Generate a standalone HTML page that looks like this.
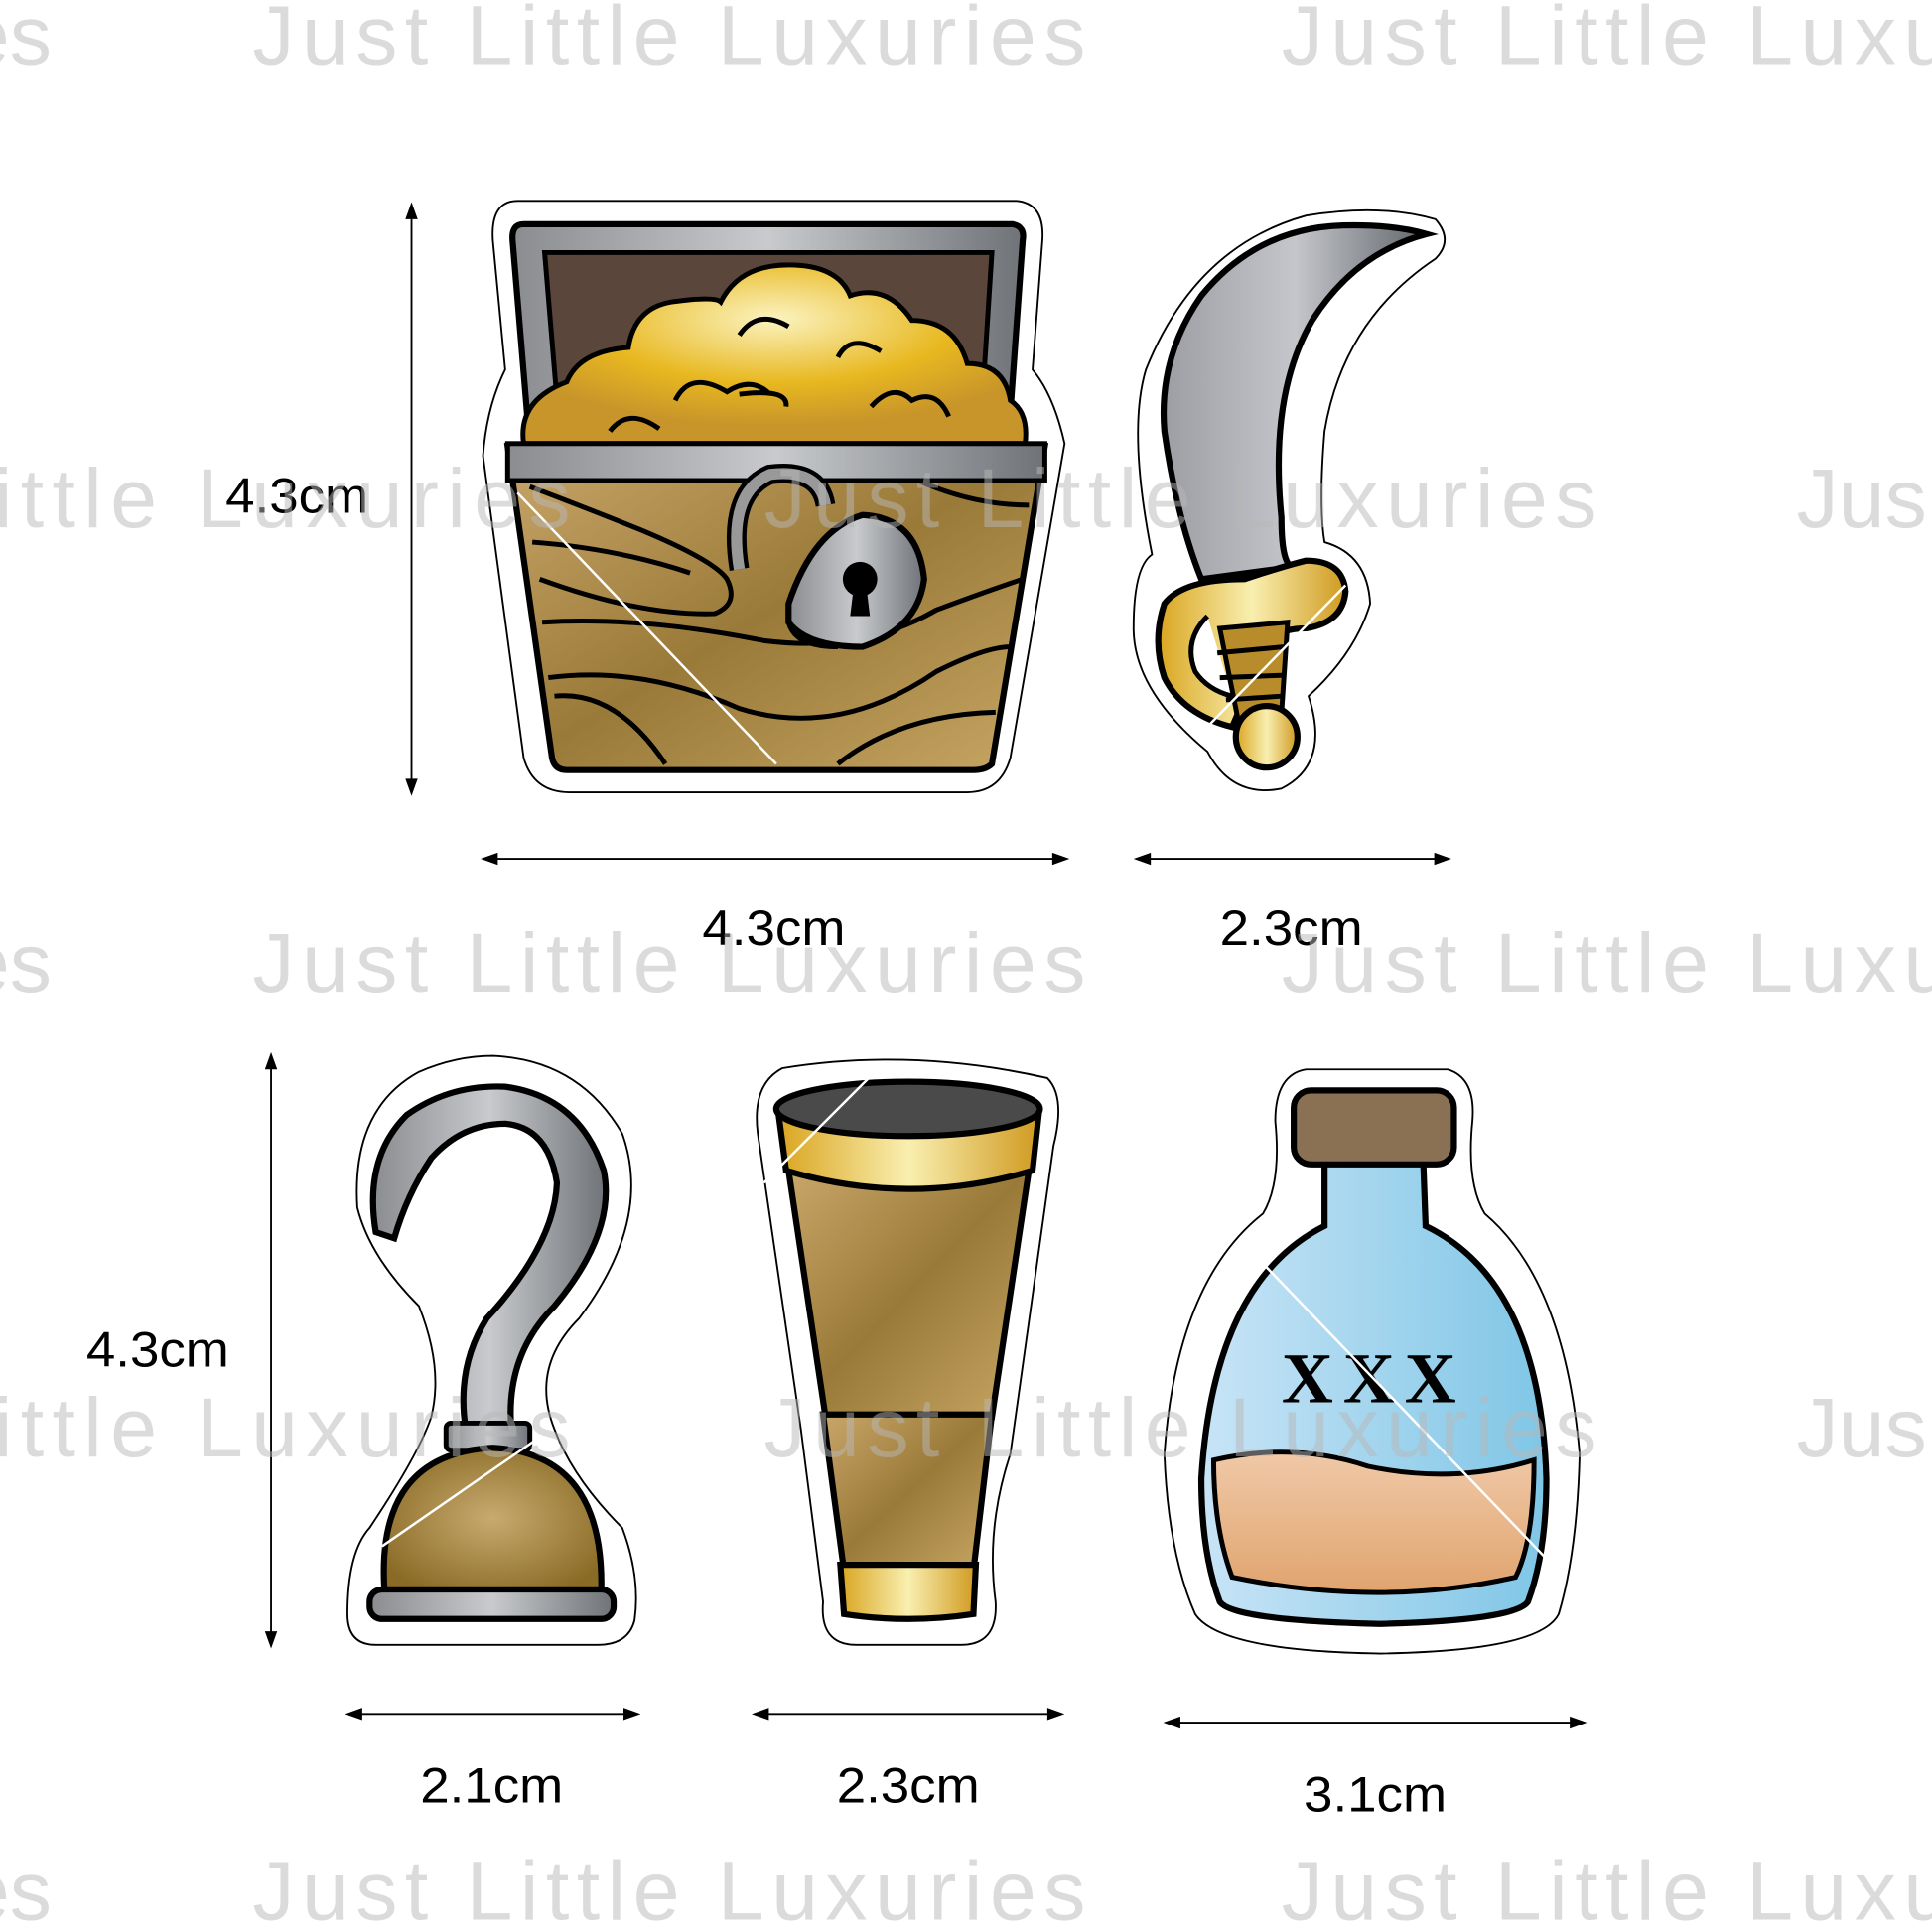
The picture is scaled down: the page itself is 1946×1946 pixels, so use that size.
<!DOCTYPE html>
<html><head><meta charset="utf-8"><style>
html,body{margin:0;padding:0;background:#fff}
svg{display:block}
</style></head><body>
<svg width="1946" height="1946" viewBox="0 0 1568 1568" xmlns="http://www.w3.org/2000/svg" font-family="Liberation Sans, sans-serif">
<defs>
<linearGradient id="gold" x1="0" x2="1"><stop offset="0" stop-color="#d9a520"/><stop offset=".5" stop-color="#f9efb0"/><stop offset="1" stop-color="#d09a20"/></linearGradient>
<radialGradient id="coins" cx=".5" cy=".3" r=".6"><stop offset="0" stop-color="#fbf3c0"/><stop offset=".6" stop-color="#e8b820"/><stop offset="1" stop-color="#c8952a"/></radialGradient>
<linearGradient id="wood" x1="0" x2="1" y1="0" y2="1"><stop offset="0" stop-color="#c9a66a"/><stop offset=".5" stop-color="#9a7a38"/><stop offset="1" stop-color="#c8a765"/></linearGradient>
<linearGradient id="steel" x1="0" x2="1"><stop offset="0" stop-color="#8a8c90"/><stop offset=".5" stop-color="#c8cacd"/><stop offset="1" stop-color="#6f7377"/></linearGradient>
<linearGradient id="blade" x1="0" x2="1"><stop offset="0" stop-color="#9c9ea4"/><stop offset=".5" stop-color="#c5c6cb"/><stop offset="1" stop-color="#60666b"/></linearGradient>
<linearGradient id="glass" x1="0" x2="1"><stop offset="0" stop-color="#c8e4f6"/><stop offset="1" stop-color="#7fc6e6"/></linearGradient>
<linearGradient id="rum" x1="0" y1="0" x2="0" y2="1"><stop offset="0" stop-color="#f0c9a8"/><stop offset="1" stop-color="#e0a46e"/></linearGradient>
<radialGradient id="brown" cx=".5" cy=".5" r=".6"><stop offset="0" stop-color="#c8aa70"/><stop offset="1" stop-color="#8a6b25"/></radialGradient>
</defs>

<!-- CHEST -->
<path d="M420 163 L825 163 Q848 165 846 195 L838 300 Q855 320 864 360 L820 615 Q812 643 785 643 L462 643 Q433 643 425 615 L392 370 Q395 330 410 300 L400 195 Q398 163 420 163Z" fill="#fff" stroke="#000" stroke-width="1.5"/>
<path d="M425 182 L822 182 Q832 184 830 195 L818 362 L430 362 L416 195 Q415 182 425 182Z" fill="url(#steel)" stroke="#000" stroke-width="5"/>
<path d="M442 205 L805 205 L795 360 L455 360Z" fill="#5a463b" stroke="#000" stroke-width="4"/>
<path d="M425 360 Q420 325 460 310 Q470 285 510 282 Q515 250 545 245 Q580 240 585 245 Q600 215 640 215 Q680 215 690 240 Q720 230 740 260 Q775 260 785 295 Q815 295 820 325 Q835 335 832 360Z" fill="url(#coins)" stroke="#000" stroke-width="4"/>
<g fill="none" stroke="#000" stroke-width="4">
<path d="M600 272 Q615 250 640 265 M680 290 Q690 270 715 285 M548 325 Q560 300 590 318 Q610 305 625 320 M638 330 Q640 315 600 320 M707 330 Q725 310 740 325 Q760 315 770 338 M495 350 Q510 330 535 348"/>
</g>
<path d="M412 362 L848 362 L805 620 Q800 625 790 625 L460 625 Q450 625 448 615Z" fill="url(#wood)" stroke="#000" stroke-width="5"/>
<rect x="412" y="360" width="436" height="30" fill="url(#steel)" stroke="#000" stroke-width="4"/>
<g fill="none" stroke="#000" stroke-width="4">
<path d="M430 395 Q470 410 520 430 Q580 455 590 470 Q600 490 580 498 Q520 500 438 470"/>
<path d="M432 440 Q500 445 560 465"/>
<path d="M440 505 Q520 500 620 520 Q700 530 760 495 Q800 480 830 470"/>
<path d="M445 550 Q520 540 600 575 Q680 600 760 545 Q800 525 820 525"/>
<path d="M450 565 Q500 560 540 620 M680 620 Q730 580 808 578"/>
<path d="M745 390 Q790 410 835 410"/>
</g>
<path d="M600 462 Q590 400 625 385 Q665 380 670 410" fill="none" stroke="#000" stroke-width="16"/>
<path d="M600 462 Q590 400 625 385 Q665 380 670 410" fill="none" stroke="#999" stroke-width="9"/>
<path d="M640 490 Q660 430 700 418 Q745 420 750 470 Q745 510 700 525 Q655 525 640 505Z" fill="url(#steel)" stroke="#000" stroke-width="5"/>
<path d="M640 505 Q645 525 680 525" fill="none" stroke="#000" stroke-width="4"/>
<circle cx="698" cy="470" r="14" fill="#000"/><path d="M693 475 L690 500 L706 500 L703 475Z" fill="#000"/>
<path d="M420 400 L630 620" stroke="#fff" stroke-width="2"/>

<!-- SWORD -->
<path d="M1165 178 Q1180 195 1165 210 Q1090 260 1075 350 Q1070 410 1075 440 Q1110 450 1112 490 Q1100 530 1062 565 Q1080 620 1040 640 Q1000 648 980 610 Q920 560 920 510 Q920 460 935 450 Q915 350 930 300 Q970 200 1060 175 Q1120 165 1165 178Z" fill="#fff" stroke="#000" stroke-width="1.5"/>
<path d="M1158 190 Q1100 205 1065 260 Q1030 320 1040 420 Q1040 460 1050 460 L975 470 Q955 420 945 350 Q940 290 975 240 Q1020 185 1090 183 Q1130 182 1158 190Z" fill="url(#blade)" stroke="#000" stroke-width="5"/>
<path d="M945 490 Q960 470 1010 470 Q1040 460 1060 455 Q1090 455 1092 480 Q1090 505 1060 510 Q1040 510 1030 520 L1000 590 Q960 580 945 550 Q935 520 945 490Z" fill="url(#gold)" stroke="#000" stroke-width="5"/>
<path d="M980 500 Q960 520 970 545 Q980 560 1000 565" fill="#fff" stroke="#000" stroke-width="4"/>
<path d="M990 510 L1045 505 L1040 580 L1005 585Z" fill="#b88c2a" stroke="#000" stroke-width="4"/>
<path d="M988 530 L1042 525 M990 550 L1042 548 M995 568 L1040 565" stroke="#000" stroke-width="4"/>
<circle cx="1028" cy="598" r="25" fill="url(#gold)" stroke="#000" stroke-width="5"/>
<path d="M1092 475 L970 600" stroke="#fff" stroke-width="2"/>

<!-- HOOK -->
<path d="M400 857 Q470 860 505 920 Q530 990 470 1070 Q430 1110 450 1160 Q465 1200 505 1240 Q520 1280 515 1315 Q510 1335 485 1335 L305 1335 Q282 1335 282 1310 Q282 1260 300 1240 Q340 1180 350 1150 Q360 1110 340 1060 Q300 1020 290 980 Q285 900 340 870 Q370 857 400 857Z" fill="#fff" stroke="#000" stroke-width="1.5"/>
<path d="M305 1000 Q295 940 330 905 Q365 880 410 882 Q470 890 490 950 Q500 1000 450 1060 Q410 1100 415 1160 L378 1160 Q370 1110 395 1070 Q450 1010 452 960 Q445 915 410 912 Q375 912 350 940 Q330 970 320 1005Z" fill="url(#steel)" stroke="#000" stroke-width="5"/>
<rect x="362" y="1155" width="68" height="22" rx="4" fill="url(#steel)" stroke="#000" stroke-width="4"/>
<path d="M312 1290 Q305 1180 400 1175 Q490 1180 488 1290Z" fill="url(#brown)" stroke="#000" stroke-width="5"/>
<rect x="300" y="1290" width="198" height="24" rx="10" fill="url(#steel)" stroke="#000" stroke-width="5"/>
<path d="M440 1165 L310 1255" stroke="#fff" stroke-width="2"/>

<!-- SPYGLASS -->
<path d="M635 867 Q740 850 850 875 Q865 890 855 930 L820 1180 Q800 1240 808 1300 Q810 1335 780 1335 L695 1335 Q665 1335 668 1300 L650 1160 L615 920 Q610 880 635 867Z" fill="#fff" stroke="#000" stroke-width="1.5"/>
<path d="M640 950 L835 950 L805 1150 L670 1150Z" fill="url(#wood)" stroke="#000" stroke-width="5"/>
<path d="M668 1148 L805 1148 L790 1275 L685 1275Z" fill="url(#wood)" stroke="#000" stroke-width="5"/>
<path d="M632 905 L843 905 L838 950 Q738 980 638 950Z" fill="url(#gold)" stroke="#000" stroke-width="5"/>
<ellipse cx="737" cy="900" rx="107" ry="22" fill="#4a4a4a" stroke="#000" stroke-width="5"/>
<path d="M682 1270 L792 1270 L790 1310 Q737 1318 685 1310Z" fill="url(#gold)" stroke="#000" stroke-width="5"/>
<path d="M710 870 L620 960" stroke="#fff" stroke-width="2"/>

<!-- BOTTLE -->
<path d="M1060 868 L1175 868 Q1198 875 1195 910 Q1190 960 1205 985 Q1270 1040 1282 1180 Q1280 1260 1265 1310 Q1250 1340 1120 1342 Q990 1340 970 1310 Q948 1260 945 1180 Q955 1040 1025 985 Q1040 960 1035 910 Q1035 872 1060 868Z" fill="#fff" stroke="#000" stroke-width="1.5"/>
<path d="M1075 940 L1155 940 L1157 995 Q1250 1040 1255 1200 Q1255 1260 1240 1300 Q1230 1315 1120 1318 Q1000 1315 990 1300 Q975 1260 975 1200 Q985 1040 1075 995Z" fill="url(#glass)" stroke="#000" stroke-width="5"/>
<path d="M985 1185 Q1050 1170 1110 1190 Q1180 1205 1245 1185 Q1245 1250 1230 1280 Q1120 1305 1000 1280 Q985 1240 985 1185Z" fill="url(#rum)" stroke="#000" stroke-width="4"/>
<rect x="1050" y="885" width="130" height="60" rx="14" fill="#8b7153" stroke="#000" stroke-width="5"/>
<text x="1115" y="1138" font-family="Liberation Serif, serif" font-size="58" font-weight="bold" text-anchor="middle" letter-spacing="8">XXX</text>
<path d="M1015 1015 L1255 1265" stroke="#fff" stroke-width="2"/>

<!-- dimension arrows -->
<g stroke="#000" stroke-width="1.5" fill="none">
<path d="M334 170 L334 640"/>
<path d="M396 697 L862 697"/>
<path d="M926 697 L1172 697"/>
<path d="M220 860 L220 1332"/>
<path d="M286 1391 L514 1391"/>
<path d="M616 1391 L858 1391"/>
<path d="M950 1398 L1282 1398"/>
</g>
<g fill="#000">
<path d="M329 178 L334 164 L339 178Z M329 632 L334 646 L339 632Z"/>
<path d="M404 692 L390 697 L404 702Z M854 692 L868 697 L854 702Z"/>
<path d="M934 692 L920 697 L934 702Z M1164 692 L1178 697 L1164 702Z"/>
<path d="M215 868 L220 854 L225 868Z M215 1324 L220 1338 L225 1324Z"/>
<path d="M294 1386 L280 1391 L294 1396Z M506 1386 L520 1391 L506 1396Z"/>
<path d="M624 1386 L610 1391 L624 1396Z M850 1386 L864 1391 L850 1396Z"/>
<path d="M958 1393 L944 1398 L958 1403Z M1274 1393 L1288 1398 L1274 1403Z"/>
</g>
<g font-size="40" fill="#000">
<text x="183" y="416" textLength="116" lengthAdjust="spacingAndGlyphs">4.3cm</text>
<text x="570" y="767" textLength="116" lengthAdjust="spacingAndGlyphs">4.3cm</text>
<text x="990" y="767" textLength="116" lengthAdjust="spacingAndGlyphs">2.3cm</text>
<text x="70" y="1109" textLength="116" lengthAdjust="spacingAndGlyphs">4.3cm</text>
<text x="341" y="1463" textLength="116" lengthAdjust="spacingAndGlyphs">2.1cm</text>
<text x="679" y="1463" textLength="116" lengthAdjust="spacingAndGlyphs">2.3cm</text>
<text x="1058" y="1470" textLength="116" lengthAdjust="spacingAndGlyphs">3.1cm</text>
</g>

<!-- watermarks -->
<g fill="#b8b8b8" fill-opacity="0.5" font-size="68">
<text x="-30" y="52">es</text><text x="205" y="52" textLength="676">Just Little Luxuries</text><text x="1040" y="52" textLength="676">Just Little Luxuries</text>
<text x="-5" y="428" textLength="468">ittle Luxuries</text><text x="620" y="428" textLength="676">Just Little Luxuries</text><text x="1458" y="428">Jus</text>
<text x="-30" y="805">es</text><text x="205" y="805" textLength="676">Just Little Luxuries</text><text x="1040" y="805" textLength="676">Just Little Luxuries</text>
<text x="-5" y="1182" textLength="468">ittle Luxuries</text><text x="620" y="1182" textLength="676">Just Little Luxuries</text><text x="1458" y="1182">Jus</text>
<text x="-30" y="1558">es</text><text x="205" y="1558" textLength="676">Just Little Luxuries</text><text x="1040" y="1558" textLength="676">Just Little Luxuries</text>
</g>
</svg>
</body></html>
